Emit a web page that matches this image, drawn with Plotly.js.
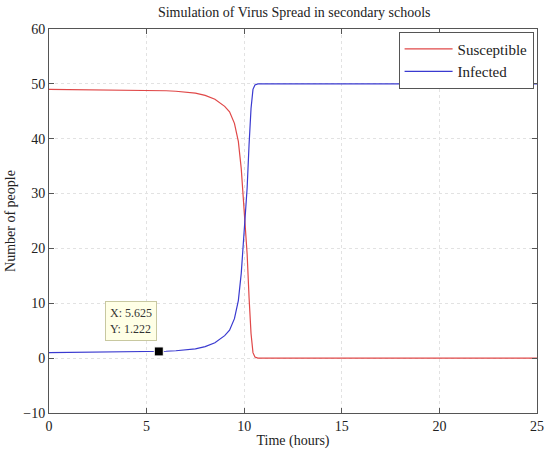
<!DOCTYPE html>
<html>
<head>
<meta charset="utf-8">
<script src="https://cdn.plot.ly/plotly-3.0.1.min.js"></script>
<style>html,body{margin:0;padding:0;background:#fff;}#chart{width:550px;height:457px;}</style>
</head>
<body>
<div id="chart"></div>
<script>
const timeHours = [0, 1, 2, 3, 4, 5, 5.625, 6, 6.5, 7, 7.5, 8, 8.5, 9, 9.25, 9.5, 9.7, 9.85, 9.95, 10.05, 10.15, 10.25, 10.35, 10.45, 10.55, 10.7, 11, 12, 15, 20, 25];
const susceptible = [49, 48.97, 48.94, 48.9, 48.86, 48.81, 48.78, 48.74, 48.65, 48.5, 48.3, 47.9, 47.2, 45.9, 44.9, 42.8, 39.5, 34.5, 29.5, 24.5, 19, 11, 4.5, 1, 0.2, 0, 0, 0, 0, 0, 0];
const infected = [1, 1.03, 1.06, 1.1, 1.14, 1.19, 1.222, 1.26, 1.35, 1.5, 1.7, 2.1, 2.8, 4.1, 5.1, 7.2, 10.5, 15.5, 20.5, 25.5, 31, 39, 45.5, 49, 49.8, 50, 50, 50, 50, 50, 50];
const seriesNames = ["Susceptible", "Infected"];
const tipX = [5.625];
const tipY = [1.222];
const xTicks = [0, 5, 10, 15, 20, 25];
const yTicks = [-10, 0, 10, 20, 30, 40, 50, 60];

const serif = "Liberation Serif, Times New Roman, serif";
const traces = [
  {x: timeHours, y: susceptible, name: seriesNames[0], mode: "lines", line: {color: "#e04848", width: 1.2}},
  {x: timeHours, y: infected, name: seriesNames[1], mode: "lines", line: {color: "#3a3ad0", width: 1.2}},
  {x: tipX, y: tipY, mode: "markers", showlegend: false, marker: {symbol: "square", color: "#000", size: 9, line: {color: "#fff", width: 1}}}
];
const axisCommon = {
  showline: true, linecolor: "#555", linewidth: 1, mirror: "ticks",
  ticks: "inside", ticklen: 5, tickcolor: "#555",
  showgrid: true, gridcolor: "#e2e2e2", griddash: "dot", gridwidth: 1,
  zeroline: false, tickfont: {family: serif, size: 14, color: "#222"}
};
const layout = {
  width: 550, height: 457,
  margin: {l: 49, r: 13, t: 29, b: 44},
  paper_bgcolor: "#fff", plot_bgcolor: "#fff",
  title: {text: "Simulation of Virus Spread in secondary schools", font: {family: serif, size: 14, color: "#222"}, x: 0.535, xanchor: "center", y: 0.985, yanchor: "top"},
  xaxis: Object.assign({}, axisCommon, {range: [0, 25], tickvals: xTicks, title: {text: "Time (hours)", font: {family: serif, size: 14, color: "#222"}, standoff: 2}}),
  yaxis: Object.assign({}, axisCommon, {range: [-10, 60], tickvals: yTicks, title: {text: "Number of people", font: {family: serif, size: 14, color: "#222"}, standoff: 4}}),
  legend: {x: 0.993, xanchor: "right", y: 0.993, yanchor: "top", bgcolor: "#fff", bordercolor: "#555", borderwidth: 1, font: {family: serif, size: 15, color: "#222"}, tracegroupgap: 0, itemwidth: 48},
  annotations: [{
    x: tipX[0], y: tipY[0], xref: "x", yref: "y", showarrow: false,
    xanchor: "right", yanchor: "bottom", xshift: -2, yshift: 10,
    text: "X: " + tipX[0] + "<br>Y: " + tipY[0],
    font: {family: serif, size: 12, color: "#333"}, align: "left",
    bgcolor: "#ffffe6", bordercolor: "#c8c8a0", borderwidth: 1, borderpad: 4
  }],
  showlegend: true
};
Plotly.newPlot("chart", traces, layout, {displayModeBar: false, staticPlot: true});
</script>
</body>
</html>
